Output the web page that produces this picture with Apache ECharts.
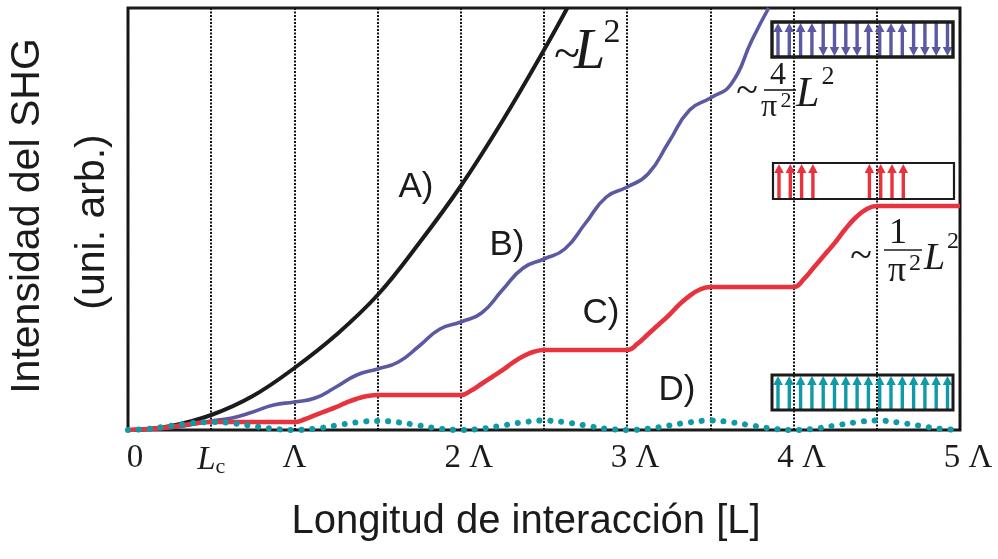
<!DOCTYPE html>
<html>
<head>
<meta charset="utf-8">
<script src="https://cdn.jsdelivr.net/npm/echarts@6/dist/echarts.min.js"></script>
<style>
  html, body { margin: 0; padding: 0; background: #fff; }
  #chart { width: 998px; height: 559px; }
</style>
</head>
<body>
<div id="chart"></div>
<script>
// Interaction length in units of the poling period Λ; intensity in arbitrary units.

// A) perfect phase matching, ~L^2
const xA = [0, 0.25, 0.5, 0.75, 1, 1.25, 1.5, 1.75, 2, 2.25, 2.5, 2.64];
const yA = [0, 3.8, 15, 34, 62, 95, 135, 187, 244, 309, 380, 422];

// B) first-order quasi phase matching, ~(4/π²)L^2
const xB = [0, 0.25, 0.5, 0.625, 0.75, 0.875, 1, 1.125, 1.25, 1.375, 1.5, 1.625, 1.75, 1.875, 2,
            2.125, 2.25, 2.375, 2.5, 2.625, 2.75, 2.875, 3, 3.125, 3.25, 3.375, 3.5, 3.625, 3.75, 3.85];
const yB = [0, 2, 9, 12, 18, 25, 28, 32, 43, 55, 61, 68, 84, 101, 108,
            117, 140, 162, 171, 181, 207, 233, 243, 256, 288, 320, 332, 346, 390, 422];

// C) periodically suppressed nonlinearity, ~(1/π²)L^2
const xC = [0, 0.125, 0.25, 0.375, 0.5, 1,
            1.0625, 1.125, 1.1875, 1.25, 1.3125, 1.375, 1.4375, 1.5, 2,
            2.0625, 2.125, 2.1875, 2.25, 2.3125, 2.375, 2.4375, 2.5, 3,
            3.0625, 3.125, 3.1875, 3.25, 3.3125, 3.375, 3.4375, 3.5, 4,
            4.0625, 4.125, 4.1875, 4.25, 4.3125, 4.375, 4.4375, 4.5, 5];
const yC = [0, 1, 3, 6, 8, 8,
            10.7, 14.8, 18.8, 22.9, 27.4, 31.2, 33.9, 35, 35,
            39.5, 46.3, 53, 59.8, 67.4, 73.7, 78.2, 80, 80,
            86.3, 95.8, 105.2, 114.7, 125.4, 134.2, 140.5, 143, 143,
            151.1, 163.3, 175.4, 187.6, 201.3, 212.7, 220.8, 224, 224];

// D) no phase matching, oscillates with period 2Lc
const xD = [0, 0.125, 0.25, 0.375, 0.5, 0.625, 0.75, 0.875, 1,
            1.125, 1.25, 1.375, 1.5, 1.625, 1.75, 1.875, 2,
            2.125, 2.25, 2.375, 2.5, 2.625, 2.75, 2.875, 3,
            3.125, 3.25, 3.375, 3.5, 3.625, 3.75, 3.875, 4,
            4.125, 4.25, 4.375, 4.5, 4.625, 4.75, 4.875, 5];
const yD = [0, 1.2, 4, 6.8, 8, 6.8, 4, 1.2, 0,
            1.3, 4.5, 7.7, 9, 7.7, 4.5, 1.3, 0,
            1.3, 4.5, 7.7, 9.5, 7.7, 4.5, 1.3, 0,
            1.3, 4.5, 7.7, 9.5, 7.7, 4.5, 1.3, 0,
            1.3, 4.5, 7.7, 9.5, 7.7, 4.5, 1.3, 0];

// Axis tick labels (every half period gets a dotted guide line)
const tickValues = [0, 0.5, 1, 2, 3, 4, 5];
const tickTexts  = ['0', 'L|c', 'Λ', '2 Λ', '3 Λ', '4 Λ', '5 Λ'];

// Domain orientation in each inset (1 = up, -1 = down, 0 = none)
const domainsB = [1, 1, 1, 1, -1, -1, -1, -1, 1, 1, 1, 1, -1, -1, -1, -1];
const domainsC = [1, 1, 1, 1, 0, 0, 0, 0, 1, 1, 1, 1, 0, 0, 0, 0];
const domainsD = [1, 1, 1, 1, 1, 1, 1, 1, 1, 1, 1, 1, 1, 1, 1, 1];

const zip = (xs, ys) => xs.map((x, i) => [x, ys[i]]);

const INK = '#1b1b1b';
const BLUE = '#5b59a2';
const RED = '#e6333e';
const TEAL = '#0f9aa7';
const SERIF = '"Liberation Serif", "Times New Roman", serif';
const SANS = '"Liberation Sans", Arial, sans-serif';

function tickFormatter(v) {
  const i = tickValues.findIndex(t => Math.abs(t - v) < 1e-6);
  if (i < 0) return '';
  const t = tickTexts[i];
  if (t.indexOf('|') >= 0) {
    const parts = t.split('|');
    return '{it|' + parts[0] + '}{sub|' + parts[1] + '}';
  }
  if (i === 0) return '{zero|' + t + '}';
  if (t.length > 1) return '{n|' + t + '}';
  return '{g|' + t + '}';
}

function txt(text, x, y, font, align, extra) {
  return Object.assign({
    type: 'text', x: x, y: y, z: 120,
    style: {
      text: text, font: font, fill: INK,
      align: align || 'center', verticalAlign: 'middle',
      textAlign: align || 'center', textVerticalAlign: 'middle'
    }
  }, extra || {});
}

function inset(box, dirs, color, borderWidth) {
  const els = [];
  const first = box.x0 + 6, step = 11.3;
  const headH = 9, headW = 9.5, shaftW = 3.4;
  dirs.forEach((d, i) => {
    if (!d) return;
    const cx = first + i * step;
    if (d > 0) {
      els.push({ type: 'rect', z: 110, shape: { x: cx - shaftW / 2, y: box.y0 + headH, width: shaftW, height: box.y1 - box.y0 - headH },
                 style: { fill: color } });
      els.push({ type: 'polygon', z: 110, shape: { points: [[cx - headW / 2, box.y0 + headH + 1], [cx + headW / 2, box.y0 + headH + 1], [cx, box.y0 + 1]] },
                 style: { fill: color } });
    } else {
      els.push({ type: 'rect', z: 110, shape: { x: cx - shaftW / 2, y: box.y0, width: shaftW, height: box.y1 - box.y0 - headH },
                 style: { fill: color } });
      els.push({ type: 'polygon', z: 110, shape: { points: [[cx - headW / 2, box.y1 - headH - 1], [cx + headW / 2, box.y1 - headH - 1], [cx, box.y1 - 1]] },
                 style: { fill: color } });
    }
  });
  els.push({ type: 'rect', z: 111, shape: { x: box.x0, y: box.y0, width: box.x1 - box.x0, height: box.y1 - box.y0 },
             style: { fill: 'none', stroke: INK, lineWidth: borderWidth } });
  return els;
}

const chart = echarts.init(document.getElementById('chart'), null, { renderer: 'canvas' });

const graphics = [].concat(
  // axis titles
  [
    txt('Intensidad del SHG', 28, 216, '41px ' + SANS, 'center', { rotation: Math.PI / 2 }),
    txt('(uni. arb.)', 93, 222, '41px ' + SANS, 'center', { rotation: Math.PI / 2 }),
    txt('Longitud de interacción [L]', 526, 522, '40px ' + SANS, 'center'),
    // curve tags
    txt('A)', 416, 187, '35px ' + SANS, 'center'),
    txt('B)', 507, 245, '35px ' + SANS, 'center'),
    txt('C)', 601, 313, '35px ' + SANS, 'center'),
    txt('D)', 677, 390, '35px ' + SANS, 'center'),
    // ~L^2
    txt('~', 567, 56, '48px ' + SERIF, 'center'),
    txt('L', 574, 53, 'italic 56px ' + SERIF, 'left'),
    txt('2', 612, 33, '34px ' + SERIF, 'center'),
    // ~(4/π²) L^2
    txt('~', 747, 92, '40px ' + SERIF, 'center'),
    txt('4', 778, 76, '32px ' + SERIF, 'center'),
    { type: 'line', z: 120, shape: { x1: 764, y1: 90, x2: 796, y2: 90 }, style: { stroke: INK, lineWidth: 1.6 } },
    txt('π', 769, 108, '32px ' + SERIF, 'center'),
    txt('2', 786, 101, '22px ' + SERIF, 'center'),
    txt('L', 796, 95, 'italic 42px ' + SERIF, 'left'),
    txt('2', 828, 77, '26px ' + SERIF, 'center'),
    // ~(1/π²) L^2
    txt('~', 861, 257, '40px ' + SERIF, 'center'),
    txt('1', 898, 234, '36px ' + SERIF, 'center'),
    { type: 'line', z: 120, shape: { x1: 884, y1: 250, x2: 922, y2: 250 }, style: { stroke: INK, lineWidth: 1.6 } },
    txt('π', 897, 272, '36px ' + SERIF, 'center'),
    txt('2', 915, 264, '24px ' + SERIF, 'center'),
    txt('L', 924, 259, 'italic 38px ' + SERIF, 'left'),
    txt('2', 953, 242, '24px ' + SERIF, 'center')
  ],
  // domain structure insets
  inset({ x0: 772, y0: 22, x1: 953, y1: 57 }, domainsB, BLUE, 3.4),
  inset({ x0: 773, y0: 163, x1: 954, y1: 199 }, domainsC, RED, 2.2),
  inset({ x0: 772, y0: 375, x1: 953, y1: 410 }, domainsD, TEAL, 3)
);

chart.setOption({
  animation: false,
  backgroundColor: '#fff',
  grid: {
    left: 128, right: 38, top: 8, bottom: 129,
    show: true, borderColor: INK, borderWidth: 3, backgroundColor: 'transparent'
  },
  xAxis: {
    type: 'value', min: 0, max: 5, interval: 0.5,
    axisLine: { show: false },
    axisTick: { show: false },
    splitLine: { show: true, lineStyle: { color: '#111', width: 2, type: [2, 1.5] } },
    axisLabel: {
      margin: 12, color: INK,
      fontFamily: SERIF, fontSize: 33,
      formatter: tickFormatter,
      rich: {
        zero: { fontFamily: SERIF, fontSize: 33, color: INK, padding: [0, 0, 0, 14] },
        g: { fontFamily: SERIF, fontSize: 33, color: INK },
        n: { fontFamily: SERIF, fontSize: 33, color: INK, padding: [0, 0, 0, 16] },
        it: { fontFamily: SERIF, fontStyle: 'italic', fontSize: 33, color: INK },
        sub: { fontFamily: SERIF, fontSize: 22, color: INK, padding: [14, 0, 0, 0] }
      }
    }
  },
  yAxis: {
    type: 'value', min: 0, max: 422,
    show: true,
    axisLine: { show: false }, axisTick: { show: false },
    axisLabel: { show: false }, splitLine: { show: false }
  },
  series: [
    { name: 'A', type: 'line', data: zip(xA, yA), smooth: 0.4, showSymbol: false, symbol: 'none',
      lineStyle: { color: INK, width: 4 }, z: 3 },
    { name: 'B', type: 'line', data: zip(xB, yB), smooth: 0.5, showSymbol: false, symbol: 'none',
      lineStyle: { color: BLUE, width: 3.6 }, z: 4 },
    { name: 'C', type: 'line', data: zip(xC, yC), smooth: 0.45, showSymbol: false, symbol: 'none',
      lineStyle: { color: RED, width: 4.6 }, z: 5 },
    { name: 'D', type: 'line', data: zip(xD, yD), smooth: 0.4, showSymbol: false, symbol: 'none',
      lineStyle: { color: TEAL, width: 6, type: [0.1, 10.8], cap: 'round' }, z: 6 }
  ],
  graphic: graphics
});
</script>
</body>
</html>
